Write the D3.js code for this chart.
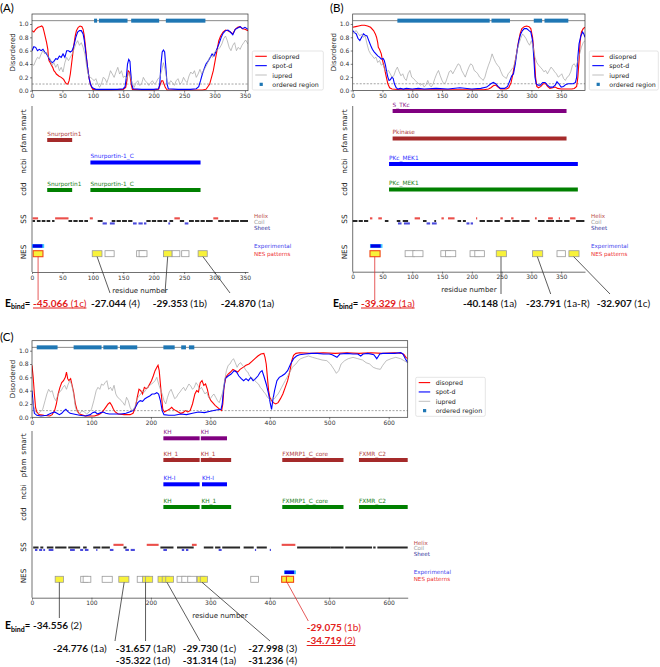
<!DOCTYPE html>
<html><head><meta charset="utf-8">
<script src="https://cdn.jsdelivr.net/npm/d3@7"></script>
<style>body{margin:0;background:#fff}svg{display:block}</style>
</head><body><svg id="c" width="660" height="667"></svg>
<script>
// ================= DATA =================
const A_len = 355, B_len = 390, C_len = 632;
const A_ticks = [0,50,100,150,200,250,300,350];
const B_ticks = [0,50,100,150,200,250,300,350];
const C_ticks = [0,100,200,300,400,500,600];
const Y_ticks = [0,0.2,0.4,0.6,0.8,1.0];

const A_ordered = [[102,107],[110,157],[163,209],[220,285]];
const B_ordered = [[75,230],[233,264],[304,318],[322,362]];
const C_ordered = [[8,43],[70,117],[120,144],[148,177],[221,240],[251,259],[264,273]];

const A_disopred = [[0,.9],[3,.88],[6,.92],[10,.95],[13,.96],[16,.97],[18,.95],[20,.88],[22,.8],[24,.72],[26,.62],[27,.5],[28,.45],[30,.42],[32,.38],[34,.35],[36,.3],[38,.28],[40,.25],[44,.22],[48,.2],[52,.17],[55,.12],[57,.1],[59,.1],[61,.15],[63,.25],[65,.4],[67,.55],[69,.7],[71,.82],[73,.9],[76,.95],[79,.97],[82,.96],[84,.92],[86,.82],[88,.65],[90,.45],[92,.3],[94,.18],[96,.1],[98,.05],[100,.02],[110,.01],[130,.01],[150,.02],[154,.05],[156,.15],[158,.3],[160,.28],[161,.24],[163,.1],[165,.02],[180,.01],[200,.01],[208,.02],[211,.1],[213,.15],[215,.15],[217,.1],[219,.05],[222,.01],[250,.01],[280,.01],[286,.02],[289,.06],[292,.1],[295,.2],[298,.3],[301,.45],[304,.6],[307,.75],[310,.82],[314,.88],[318,.91],[322,.9],[326,.88],[330,.85],[334,.92],[338,.95],[342,.96],[346,.93],[350,.92],[355,.9]];
const A_spotd = [[0,.6],[3,.66],[6,.65],[9,.6],[12,.62],[15,.6],[18,.62],[21,.58],[24,.55],[27,.5],[30,.45],[33,.42],[36,.44],[39,.48],[42,.47],[45,.52],[48,.5],[51,.55],[54,.5],[57,.6],[60,.6],[63,.58],[66,.6],[69,.68],[72,.8],[75,.88],[78,.9],[81,.9],[84,.85],[86,.75],[88,.6],[90,.45],[92,.3],[94,.18],[96,.1],[98,.06],[100,.04],[105,.02],[120,.02],[140,.02],[150,.03],[153,.06],[155,.2],[157,.4],[159,.47],[161,.44],[162,.3],[164,.1],[166,.03],[180,.02],[200,.02],[208,.03],[210,.1],[212,.4],[214,.58],[216,.61],[218,.58],[220,.35],[222,.1],[224,.03],[240,.02],[260,.02],[270,.03],[274,.06],[277,.15],[280,.25],[283,.33],[286,.4],[290,.45],[293,.5],[296,.55],[299,.52],[302,.58],[305,.65],[308,.72],[311,.8],[314,.86],[318,.9],[322,.91],[326,.88],[330,.84],[334,.92],[338,.94],[342,.96],[346,.93],[350,.95],[355,.92]];
const A_iupred = [[0,.4],[3,.38],[6,.45],[9,.5],[12,.48],[15,.55],[18,.6],[21,.55],[24,.58],[27,.5],[30,.48],[33,.38],[36,.42],[39,.35],[42,.4],[45,.3],[48,.35],[51,.28],[54,.42],[57,.5],[60,.45],[63,.5],[66,.55],[69,.62],[72,.7],[75,.75],[78,.68],[81,.72],[84,.65],[87,.55],[90,.35],[93,.22],[96,.2],[99,.18],[102,.15],[105,.18],[108,.1],[111,.05],[114,.1],[117,.2],[120,.18],[123,.12],[126,.2],[129,.3],[132,.25],[135,.2],[138,.28],[141,.35],[144,.25],[147,.3],[150,.2],[153,.22],[156,.18],[159,.28],[162,.2],[165,.1],[168,.05],[171,.12],[174,.15],[177,.08],[180,.1],[183,.2],[186,.15],[189,.12],[192,.08],[195,.12],[198,.15],[201,.1],[204,.12],[207,.18],[210,.2],[213,.3],[216,.42],[219,.3],[222,.15],[225,.1],[228,.15],[231,.12],[234,.08],[237,.15],[240,.18],[243,.1],[246,.12],[249,.2],[252,.15],[255,.12],[258,.22],[261,.28],[264,.25],[267,.3],[270,.2],[273,.25],[276,.32],[279,.25],[282,.3],[285,.35],[288,.4],[291,.48],[294,.52],[297,.5],[300,.58],[303,.6],[306,.62],[309,.65],[312,.7],[315,.78],[318,.82],[321,.75],[324,.65],[327,.6],[330,.68],[333,.72],[336,.6],[339,.65],[342,.62],[345,.68],[348,.72],[351,.76],[355,.7]];

const B_disopred = [[0,.95],[5,.96],[10,.97],[15,.98],[20,.98],[25,.97],[30,.95],[35,.9],[38,.85],[40,.8],[42,.72],[43,.65],[45,.62],[48,.55],[50,.45],[53,.35],[56,.22],[59,.1],[62,.04],[66,.02],[80,.01],[120,.01],[180,.01],[220,.01],[228,.02],[232,.04],[236,.07],[240,.08],[244,.05],[248,.02],[258,.02],[262,.04],[266,.12],[269,.25],[272,.4],[275,.55],[278,.72],[281,.85],[284,.93],[288,.96],[292,.97],[296,.96],[299,.93],[302,.8],[305,.5],[307,.2],[309,.06],[312,.04],[316,.06],[320,.1],[324,.1],[327,.06],[331,.03],[336,.04],[340,.05],[344,.03],[350,.02],[360,.02],[368,.02],[372,.03],[376,.06],[378,.2],[380,.45],[382,.75],[384,.88],[387,.93],[390,.95]];
const B_spotd = [[0,.9],[3,.87],[6,.85],[9,.78],[12,.75],[15,.8],[18,.85],[21,.83],[24,.82],[27,.75],[30,.68],[33,.62],[36,.58],[39,.55],[42,.52],[45,.5],[48,.47],[51,.48],[53,.45],[55,.38],[57,.28],[59,.2],[61,.15],[63,.16],[66,.2],[68,.18],[70,.1],[73,.04],[76,.02],[80,.03],[85,.02],[90,.03],[100,.02],[110,.03],[120,.02],[140,.03],[160,.02],[180,.04],[200,.02],[215,.03],[225,.05],[232,.1],[236,.12],[240,.1],[244,.06],[248,.03],[255,.03],[260,.06],[264,.15],[267,.22],[270,.25],[273,.4],[276,.6],[279,.75],[282,.85],[285,.9],[288,.93],[292,.93],[296,.9],[299,.88],[302,.75],[304,.5],[306,.2],[308,.1],[311,.08],[315,.08],[319,.12],[323,.12],[327,.08],[331,.05],[336,.05],[340,.08],[343,.13],[346,.1],[350,.05],[354,.06],[358,.09],[362,.1],[366,.1],[370,.1],[374,.12],[376,.2],[378,.5],[380,.7],[383,.82],[386,.88],[388,.85],[390,.8]];
const B_iupred = [[0,.85],[3,.88],[6,.9],[9,.86],[12,.82],[15,.85],[18,.8],[21,.82],[24,.7],[27,.6],[30,.55],[33,.52],[36,.48],[39,.5],[42,.42],[45,.45],[48,.38],[51,.4],[54,.3],[57,.28],[60,.3],[63,.25],[66,.2],[69,.22],[72,.3],[75,.35],[78,.28],[81,.22],[84,.25],[87,.18],[90,.15],[93,.25],[96,.3],[99,.2],[102,.18],[105,.15],[108,.12],[111,.1],[114,.08],[117,.1],[120,.05],[123,.08],[126,.15],[129,.08],[132,.05],[135,.1],[138,.18],[141,.25],[144,.3],[147,.22],[150,.15],[153,.1],[156,.12],[159,.2],[162,.28],[165,.3],[168,.25],[171,.3],[174,.35],[177,.4],[180,.38],[183,.3],[186,.25],[189,.2],[192,.28],[195,.35],[198,.4],[201,.38],[204,.3],[207,.28],[210,.25],[213,.2],[216,.18],[219,.15],[222,.2],[225,.3],[228,.38],[231,.45],[234,.55],[237,.48],[240,.42],[243,.38],[246,.35],[249,.28],[252,.22],[255,.2],[258,.18],[261,.25],[264,.28],[267,.32],[270,.35],[273,.45],[276,.6],[279,.7],[282,.78],[285,.85],[288,.82],[291,.78],[294,.72],[297,.68],[300,.75],[303,.65],[306,.5],[309,.42],[312,.38],[315,.35],[318,.32],[321,.28],[324,.3],[327,.25],[330,.3],[333,.35],[336,.32],[339,.28],[342,.25],[345,.2],[348,.22],[351,.25],[354,.18],[357,.15],[360,.2],[363,.22],[366,.28],[369,.38],[372,.4],[375,.35],[378,.45],[381,.55],[384,.65],[387,.72],[390,.75]];

const C_disopred = [[0,.78],[2,.6],[4,.35],[6,.15],[8,.08],[12,.04],[20,.03],[30,.02],[34,.04],[38,.1],[41,.2],[44,.35],[47,.45],[50,.52],[53,.55],[56,.6],[58,.68],[60,.58],[62,.55],[65,.58],[67,.5],[70,.38],[73,.2],[76,.1],[80,.05],[90,.02],[105,.02],[112,.04],[116,.06],[120,.1],[124,.15],[128,.2],[131,.22],[134,.18],[137,.12],[140,.08],[145,.05],[155,.04],[165,.04],[170,.06],[174,.15],[177,.3],[180,.42],[183,.4],[186,.35],[189,.45],[192,.43],[195,.45],[198,.5],[201,.55],[204,.62],[207,.7],[210,.75],[212,.78],[214,.7],[216,.5],[218,.3],[220,.12],[223,.08],[227,.1],[231,.12],[235,.15],[238,.12],[242,.1],[246,.08],[250,.06],[254,.07],[258,.1],[262,.08],[266,.1],[270,.2],[274,.35],[277,.4],[280,.38],[283,.52],[286,.55],[289,.48],[292,.5],[295,.42],[298,.3],[301,.25],[304,.22],[308,.18],[312,.15],[316,.12],[319,.1],[321,.2],[323,.45],[326,.6],[330,.65],[334,.68],[338,.72],[342,.7],[346,.68],[350,.72],[355,.75],[360,.78],[365,.8],[370,.84],[375,.88],[380,.92],[385,.95],[390,.96],[392,.9],[394,.8],[396,.6],[398,.4],[400,.3],[403,.25],[406,.22],[410,.2],[414,.22],[418,.28],[422,.35],[426,.45],[430,.55],[434,.7],[437,.85],[440,.93],[444,.96],[450,.97],[470,.96],[490,.97],[510,.96],[530,.97],[550,.96],[570,.97],[590,.96],[610,.97],[622,.96],[626,.94],[629,.9],[632,.88]];
const C_spotd = [[0,.4],[2,.2],[4,.06],[8,.03],[15,.02],[25,.03],[32,.06],[38,.08],[42,.06],[46,.04],[50,.06],[54,.1],[57,.12],[60,.09],[64,.06],[70,.05],[80,.03],[90,.02],[98,.04],[102,.07],[106,.08],[110,.05],[116,.07],[120,.08],[124,.06],[130,.05],[140,.05],[150,.05],[158,.06],[164,.08],[170,.1],[174,.15],[178,.22],[182,.25],[186,.24],[190,.28],[194,.3],[198,.32],[202,.35],[206,.35],[210,.37],[213,.35],[216,.25],[219,.1],[222,.04],[230,.03],[240,.03],[250,.05],[260,.04],[270,.06],[280,.08],[290,.07],[300,.09],[310,.11],[318,.12],[320,.2],[322,.4],[325,.58],[330,.62],[335,.65],[340,.7],[344,.68],[348,.62],[352,.58],[356,.55],[360,.58],[364,.55],[368,.6],[372,.55],[376,.58],[380,.62],[384,.68],[387,.7],[390,.62],[394,.5],[398,.35],[401,.2],[403,.12],[405,.25],[408,.4],[412,.55],[416,.6],[420,.62],[425,.65],[430,.7],[435,.8],[440,.88],[445,.92],[450,.94],[460,.95],[470,.96],[480,.96],[490,.95],[500,.95],[505,.94],[513,.9],[518,.95],[530,.96],[540,.95],[548,.95],[553,.92],[557,.95],[565,.96],[575,.94],[580,.88],[585,.95],[590,.96],[600,.96],[610,.96],[620,.97],[624,.95],[628,.88],[632,.82]];
const C_iupred = [[0,.3],[3,.15],[6,.08],[10,.05],[14,.08],[18,.12],[22,.25],[25,.35],[28,.42],[31,.38],[34,.4],[37,.3],[40,.25],[43,.32],[46,.38],[49,.4],[52,.45],[55,.48],[58,.42],[61,.5],[64,.55],[67,.48],[70,.35],[73,.15],[76,.08],[80,.05],[84,.1],[88,.08],[92,.05],[96,.08],[100,.12],[104,.25],[108,.4],[111,.45],[114,.42],[117,.5],[120,.48],[123,.52],[126,.55],[129,.42],[132,.45],[135,.4],[138,.48],[141,.35],[144,.3],[147,.28],[150,.25],[153,.22],[156,.18],[159,.3],[162,.25],[165,.15],[168,.1],[171,.12],[174,.18],[177,.28],[180,.32],[183,.35],[186,.4],[189,.38],[192,.42],[195,.45],[198,.48],[201,.5],[204,.52],[207,.55],[210,.6],[213,.5],[216,.42],[219,.35],[222,.25],[225,.2],[228,.3],[231,.38],[234,.42],[237,.35],[240,.28],[243,.3],[246,.35],[249,.38],[252,.42],[255,.45],[258,.4],[261,.45],[264,.5],[267,.47],[270,.42],[273,.45],[276,.52],[279,.48],[282,.42],[285,.45],[288,.4],[291,.35],[294,.38],[297,.3],[300,.28],[303,.32],[306,.35],[309,.3],[312,.25],[315,.22],[318,.3],[321,.38],[324,.55],[327,.7],[330,.78],[333,.8],[336,.85],[339,.88],[342,.82],[345,.75],[348,.8],[351,.82],[354,.78],[357,.75],[360,.7],[363,.68],[366,.62],[369,.6],[372,.58],[375,.55],[378,.52],[381,.5],[384,.45],[387,.42],[390,.38],[393,.35],[396,.3],[399,.28],[402,.25],[405,.3],[408,.28],[411,.32],[414,.35],[417,.4],[420,.45],[423,.5],[426,.55],[429,.6],[432,.65],[435,.7],[438,.75],[441,.78],[444,.8],[448,.85],[452,.88],[458,.9],[465,.92],[472,.9],[480,.88],[488,.86],[496,.85],[502,.8],[508,.72],[512,.66],[516,.7],[520,.8],[526,.85],[532,.88],[540,.9],[548,.88],[556,.86],[562,.82],[568,.8],[574,.75],[580,.73],[586,.72],[590,.78],[596,.85],[604,.88],[612,.9],[620,.88],[626,.85],[632,.82]];

// domain annotations: [track, name, start, end]
const A_domains = [["pfam","Snurportin1",25,66],["ncbi","Snurportin-1_C",96,277],["cdd","Snurportin1",25,66],["cdd","Snurportin-1_C",96,277]];
const B_domains = [["smart","S_TKc",67,359],["pfam","Pkinase",67,359],["ncbi","PKc_MEK1",61,378],["cdd","PKc_MEK1",61,378]];
const C_domains = [["smart","KH",221,282],["smart","KH",284,328],["pfam","KH_1",221,282],["pfam","KH_1",284,335],["pfam","FXMRP1_C_core",421,524],["pfam","FXMR_C2",550,632],["ncbi","KH-I",221,282],["ncbi","KH-I",286,328],["cdd","KH",221,282],["cdd","KH_1",285,335],["cdd","FXMRP1_C_core",421,524],["cdd","FXMR_C2",550,632]];

// secondary structure segments
const A_helix = [[1,10],[38,60],[95,100],[234,243],[298,306]];
const A_coil = [[1,5],[8,14],[16,22],[24,30],[33,37],[60,66],[68,75],[77,84],[86,92],[108,116],[131,137],[139,146],[148,156],[158,165],[188,195],[197,204],[206,214],[216,222],[226,232],[243,250],[258,266],[268,275],[277,284],[286,297],[306,315],[317,325],[327,340],[342,355]];
const A_sheet = [[116,123],[128,136],[166,172],[175,182],[184,188],[224,227],[251,257]];
const B_helix = [[29,33],[43,49],[104,113],[149,153],[160,171],[207,209],[248,252],[266,270],[306,309],[328,336],[346,348],[365,374]];
const B_coil = [[0,8],[10,17],[19,26],[54,60],[74,80],[84,93],[118,124],[137,140],[176,182],[185,190],[213,222],[225,235],[238,247],[255,265],[268,280],[283,297],[311,322],[325,338],[341,352],[355,364],[375,389]];
const B_sheet = [[76,82],[86,96],[124,130],[133,141],[191,196],[198,202]];
const C_helix = [[137,154],[193,213],[269,277],[420,443]];
const C_coil = [[2,11],[14,19],[25,36],[39,58],[61,81],[86,92],[103,115],[117,131],[154,159],[216,238],[244,272],[289,305],[308,317],[320,350],[356,373],[378,395],[446,502],[502,524],[527,572],[574,578],[581,632]];
const C_sheet = [[5,9],[12,17],[19,22],[28,36],[64,72],[81,86],[89,95],[108,110],[131,137],[157,163],[166,173],[221,227],[252,256],[259,263],[314,319],[375,377],[400,402]];

// NES: experimental [start,end]; patterns [start,end,kind] kind: y=yellow, w=white, r=highlighted
const A_exp = [1,17];
const B_exp = [30,47];
const C_exp = [425,441];
const A_nes = [[120,135,"w"],[172,185,"w"],[176,189,"w"],[230,243,"w"],[246,258,"w"],[99,115,"y"],[216,230,"y"],[273,288,"y"],[2,18,"r"]];
const B_nes = [[88,104,"w"],[101,118,"w"],[148,164,"w"],[156,173,"w"],[197,213,"w"],[205,221,"w"],[343,357,"w"],[241,258,"y"],[302,319,"y"],[363,380,"y"],[29,46,"r"]];
const C_nes = [[82,94,"w"],[86,99,"w"],[118,135,"w"],[177,189,"w"],[244,258,"w"],[252,266,"w"],[262,277,"w"],[368,381,"w"],[39,53,"y"],[146,163,"y"],[186,197,"y"],[191,203,"y"],[212,225,"y"],[219,231,"y"],[225,238,"y"],[278,291,"y"],[283,295,"y"],[420,432,"r"],[428,440,"r"]];

// binding energies: [anchor residue, [[value, pattern], ...], highlighted]
const A_energy = [[10,[["-45.066","(1c)"]],true],[107,[["-27.044","(4)"]],false],[223,[["-29.353","(1b)"]],false],[281,[["-24.870","(1a)"]],false]];
const B_energy = [[37,[["-39.329","(1a)"]],true],[249,[["-40.148","(1a)"]],false],[310,[["-23.791","(1a-R)"]],false],[371,[["-32.907","(1c)"]],false]];
const C_energy = [[46,[["-34.556","(2)"]],false],[155,[["-24.776","(1a)"]],false],[191,[["-31.657","(1aR)"],["-35.322","(1d)"]],false],[227,[["-29.730","(1c)"],["-31.314","(1a)"]],false],[286,[["-27.998","(3)"],["-31.236","(4)"]],false],[429,[["-29.075","(1b)"],["-34.719","(2)"]],true]];

// ================= LAYOUT =================
const LAYOUT_A = {name:"(A)", letter:[0,11.5], L:32, R:248, T:14, B:90.7, leg:[252.3,51,71],
  lowT:106, lowB:272, rows:{smart:[120,111],pfam:[143,140],ncbi:[166,162.5],cdd:[189,190]}, ssY:220, ssLab:219, nesLab:252, expY:246, patY:253.7,
  eb:[32.5,306.5],
  calls:[{lx:null,ly:300,tx:33,ty:306.5,ebind:true},{lx:110,ly:293,tx:91,ty:306.5},{lx:165,ly:293,tx:152.7,ty:306.5},{lx:230,ly:293,tx:220.7,ty:306.5}]};
const LAYOUT_B = {name:"(B)", letter:[330,11.5], L:352.7, R:585, T:14, B:90.4, leg:[589.3,51,69],
  lowT:106, lowB:271.7, rows:{smart:[120,111],pfam:[143,138.5],ncbi:[166,164],cdd:[189,189.5]}, ssY:220, ssLab:219, nesLab:252, expY:246, patY:253.7,
  eb:[360.5,306.5],
  calls:[{lx:null,ly:300,tx:361,ty:306.5,ebind:true},{lx:null,ly:294,tx:463,ty:306.5},{lx:550.7,ly:294,tx:526,ty:306.5},{lx:610,ly:294,tx:596.7,ty:306.5}]};
const LAYOUT_C = {name:"(C)", letter:[0,341], L:32, R:407.7, T:340.7, B:417.3, leg:[415.7,377.3,69.6],
  lowT:431, lowB:597.7, rows:{smart:[444,438.3],pfam:[468,460],ncbi:[492,484.3],cdd:[514,507]}, ssY:546.5, ssLab:547, nesLab:576, expY:572.3, patY:579.3,
  eb:[32.5,629],
  calls:[{lx:null,ly:618,tx:33,ty:629,ebind:true},{lx:115,ly:641,tx:53,ty:652,gap:12},{lx:null,ly:641,tx:115.7,ty:652,gap:12},{lx:200,ly:641,tx:182.7,ty:652,gap:12},{lx:270,ly:641,tx:248.3,ty:652,gap:12},{lx:308.3,ly:621,tx:306.7,ty:630.5,gap:13.5,ulIndex:1}]};

// ================= DRAW =================
const svg = d3.select("#c");
const defs = svg.append("defs");
const MPL = "'DejaVu Sans', sans-serif";
const CAL = "Lato, 'Open Sans', sans-serif";
const RED = "#e3211c";
const trackColor = {smart:"#800080", pfam:"#a52a2a", ncbi:"#0000ff", cdd:"#008000"};
const trackText = {smart:"#8b1a8b", pfam:"#b04040", ncbi:"#3030ff", cdd:"#208020"};

function styleAxis(a){
  a.selectAll("text").attr("font-family",MPL).attr("font-size",6).attr("fill","#333");
  a.selectAll(".tick line").attr("stroke","#333").attr("stroke-width",0.6);
}

function drawPanel(P, D){
  const g = svg.append("g");
  const x = d3.scaleLinear().domain([0, D.len]).range([P.L, P.R]);
  const y = d3.scaleLinear().domain([0, 1.15]).range([P.B, P.T]);

  g.append("text").attr("x",P.letter[0]).attr("y",P.letter[1]).text(P.name)
    .attr("font-family",CAL).attr("font-size",11.5).attr("fill","#000");

  const cid = "clip" + P.name.replace(/[()]/g,"");
  defs.append("clipPath").attr("id",cid).append("rect")
    .attr("x",P.L).attr("y",P.T).attr("width",P.R-P.L).attr("height",P.B-P.T);
  const plot = g.append("g").attr("clip-path",`url(#${cid})`);

  plot.append("line").attr("x1",P.L).attr("x2",P.R).attr("y1",y(1.05)).attr("y2",y(1.05))
    .attr("stroke","#8a8a8a").attr("stroke-width",1);
  plot.selectAll("rect.ord").data(D.ordered).join("rect").attr("class","ord")
    .attr("x",d=>x(d[0])).attr("width",d=>x(d[1])-x(d[0])).attr("y",y(1.05)-2).attr("height",4)
    .attr("fill","#1f77b4");
  plot.append("line").attr("x1",P.L).attr("x2",P.R).attr("y1",y(0.1)).attr("y2",y(0.1))
    .attr("stroke","#666").attr("stroke-width",0.6).attr("stroke-dasharray","2,1.5");

  const line = d3.line().x(d=>x(d[0])).y(d=>y(d[1]));
  plot.append("path").datum(D.disopred).attr("d",line).attr("fill","none").attr("stroke","#ff0000").attr("stroke-width",1.1);
  plot.append("path").datum(D.spotd).attr("d",line).attr("fill","none").attr("stroke","#0000ff").attr("stroke-width",1.1);
  plot.append("path").datum(D.iupred).attr("d",line).attr("fill","none").attr("stroke","#a3a3a3").attr("stroke-width",0.7);

  g.append("rect").attr("x",P.L).attr("y",P.T).attr("width",P.R-P.L).attr("height",P.B-P.T)
    .attr("fill","none").attr("stroke","#333").attr("stroke-width",0.7);

  const xa = g.append("g").attr("transform",`translate(0,${P.B})`)
    .call(d3.axisBottom(x).tickValues(D.ticks).tickSize(2).tickPadding(1.5));
  xa.select(".domain").remove(); styleAxis(xa);
  const ya = g.append("g").attr("transform",`translate(${P.L},0)`)
    .call(d3.axisLeft(y).tickValues(Y_ticks).tickFormat(d3.format(".1f")).tickSize(2).tickPadding(1.5));
  ya.select(".domain").remove(); styleAxis(ya);

  g.append("text").attr("transform",`translate(${P.L-19},${(P.T+P.B)/2}) rotate(-90)`)
    .attr("text-anchor","middle").attr("dominant-baseline","central")
    .attr("font-family",MPL).attr("font-size",7).attr("fill","#222").text("Disordered");

  // legend
  const lg = g.append("g").attr("transform",`translate(${P.leg[0]},${P.leg[1]})`);
  lg.append("rect").attr("width",P.leg[2]).attr("height",39).attr("fill","#fff")
    .attr("stroke","#d4d4d4").attr("stroke-width",0.6).attr("rx",1.5);
  const items = [["disopred","#ff0000",1.1],["spot-d","#0000ff",1.1],["iupred","#a3a3a3",0.7],["ordered region","#1f77b4",0]];
  items.forEach((it,i)=>{
    const yy = 5.3 + i*9.35;
    if (it[2] > 0) lg.append("line").attr("x1",3).attr("x2",14.5).attr("y1",yy).attr("y2",yy).attr("stroke",it[1]).attr("stroke-width",it[2]);
    else lg.append("rect").attr("x",7.3).attr("y",yy-1.6).attr("width",3.2).attr("height",3.2).attr("fill",it[1]);
    lg.append("text").attr("x",20).attr("y",yy).attr("dominant-baseline","central")
      .attr("font-family",MPL).attr("font-size",6.3).attr("fill","#222").text(it[0]);
  });

  // ---------- lower panel ----------
  const low = g.append("g");
  low.append("line").attr("x1",P.L).attr("x2",P.L).attr("y1",P.lowT).attr("y2",P.lowB)
    .attr("stroke","#333").attr("stroke-width",0.7);
  const bx = low.append("g").attr("transform",`translate(0,${P.lowB})`)
    .call(d3.axisBottom(x).tickValues(D.ticks).tickSize(2).tickPadding(1.5).tickSizeOuter(0));
  bx.select(".domain").attr("stroke","#333").attr("stroke-width",0.7); styleAxis(bx);
  low.append("text").attr("x",(P.L+P.R)/2).attr("y",P.lowB+20.5).attr("text-anchor","middle")
    .attr("font-family",MPL).attr("font-size",7).attr("fill","#222").text("residue number");

  const labels = [["smart",P.rows.smart[0]],["pfam",P.rows.pfam[0]],["ncbi",P.rows.ncbi[0]],["cdd",P.rows.cdd[0]],["SS",P.ssLab],["NES",P.nesLab]];
  labels.forEach(l=>{
    low.append("text").attr("transform",`translate(${P.L-8.5},${l[1]}) rotate(-90)`)
      .attr("text-anchor","middle").attr("dominant-baseline","central")
      .attr("font-family",MPL).attr("font-size",7.3).attr("fill","#222").text(l[0]);
  });

  // domains
  low.selectAll("rect.dom").data(D.domains).join("rect").attr("class","dom")
    .attr("x",d=>x(d[2])).attr("width",d=>x(d[3])-x(d[2])).attr("y",d=>P.rows[d[0]][1]-2).attr("height",4)
    .attr("fill",d=>trackColor[d[0]]);
  low.selectAll("text.dom").data(D.domains).join("text").attr("class","dom")
    .attr("x",d=>x(d[2])).attr("y",d=>P.rows[d[0]][1]-4.2)
    .attr("font-family",MPL).attr("font-size",5.8).attr("fill",d=>trackText[d[0]]).text(d=>d[1]);

  // secondary structure
  const ssDraw = (arr, dy, h, col, op) => low.append("g").selectAll("rect").data(arr).join("rect")
    .attr("x",d=>x(d[0])).attr("width",d=>Math.max(0.8,x(d[1])-x(d[0]))).attr("y",P.ssY+dy).attr("height",h)
    .attr("fill",col).attr("opacity",op);
  ssDraw(D.coil, 0, 2, "#111", 0.9);
  ssDraw(D.helix, -2.7, 2.1, "#e8302a", 0.85);
  ssDraw(D.sheet, 2.4, 2.1, "#2a2ad6", 0.85);
  [["Helix","#b84848",-4],["Coil","#9a9a9a",1.8],["Sheet","#30309a",7.6]].forEach(t=>{
    low.append("text").attr("x",P.R+6).attr("y",P.ssY+t[2]).attr("dominant-baseline","central")
      .attr("font-family",MPL).attr("font-size",5.6).attr("fill",t[1]).text(t[0]);
  });

  // NES
  const e = D.exp;
  low.append("rect").attr("x",x(e[0]-1)).attr("width",x(e[1]+3)-x(e[0]-1)).attr("y",P.expY-1.9).attr("height",3.8).attr("fill","#3cc8ff");
  low.append("rect").attr("x",x(e[0])).attr("width",x(e[1])-x(e[0])).attr("y",P.expY-1.7).attr("height",3.4).attr("fill","#0000e6");
  low.selectAll("rect.nes").data(D.nes).join("rect").attr("class","nes")
    .attr("x",d=>x(d[0])).attr("width",d=>x(d[1])-x(d[0])).attr("y",P.patY-3).attr("height",6)
    .attr("fill",d=>d[2]==="w"?"#fff":"#f8f23a")
    .attr("stroke",d=>d[2]==="r"?"#f04a1a":"#9a9a9a").attr("stroke-width",d=>d[2]==="r"?1.1:0.8);
  low.append("text").attr("x",P.R+6).attr("y",P.expY).attr("dominant-baseline","central")
    .attr("font-family",MPL).attr("font-size",5.6).attr("fill","#4444ee").text("Experimental");
  low.append("text").attr("x",P.R+6).attr("y",P.patY).attr("dominant-baseline","central")
    .attr("font-family",MPL).attr("font-size",5.6).attr("fill","#ee3333").text("NES patterns");

  // callouts
  D.energy.forEach((en,i)=>{
    const L = P.calls[i];
    const ax = x(en[0]);
    const lx = L.lx===null ? ax : L.lx;
    const col = en[2] ? RED : "#111";
    g.append("line").attr("x1",ax).attr("y1",P.patY+3).attr("x2",lx).attr("y2",L.ly)
      .attr("stroke",en[2]?"#e03030":"#333").attr("stroke-width",0.8);
    if (L.ebind) {
      const t = g.append("text").attr("x",P.eb[0]).attr("y",P.eb[1]).attr("text-anchor","end")
        .attr("font-family",CAL).attr("font-weight","bold").attr("fill","#000");
      t.append("tspan").attr("font-size",10.5).text("E");
      t.append("tspan").attr("font-size",7).attr("dy",2.5).text("bind");
      t.append("tspan").attr("font-size",9.5).attr("dy",-2.5).text("=\u00a0");
    }
    en[1].forEach((v,j)=>{
      const t = g.append("text").attr("x",L.tx).attr("y",L.ty + j*(L.gap||12))
        .attr("font-family",CAL).attr("font-size",10).attr("fill",col);
      const ul = en[2] && (L.ulIndex===undefined || L.ulIndex===j);
      if (ul) t.attr("text-decoration","underline");
      t.append("tspan").attr("font-weight","bold").text(v[0]);
      t.append("tspan").attr("font-weight","normal").text(" " + v[1]);
    });
  });
}

drawPanel(LAYOUT_A, {len:A_len, ticks:A_ticks, ordered:A_ordered, disopred:A_disopred, spotd:A_spotd, iupred:A_iupred, domains:A_domains, helix:A_helix, coil:A_coil, sheet:A_sheet, exp:A_exp, nes:A_nes, energy:A_energy});
drawPanel(LAYOUT_B, {len:B_len, ticks:B_ticks, ordered:B_ordered, disopred:B_disopred, spotd:B_spotd, iupred:B_iupred, domains:B_domains, helix:B_helix, coil:B_coil, sheet:B_sheet, exp:B_exp, nes:B_nes, energy:B_energy});
drawPanel(LAYOUT_C, {len:C_len, ticks:C_ticks, ordered:C_ordered, disopred:C_disopred, spotd:C_spotd, iupred:C_iupred, domains:C_domains, helix:C_helix, coil:C_coil, sheet:C_sheet, exp:C_exp, nes:C_nes, energy:C_energy});
</script></body></html>
